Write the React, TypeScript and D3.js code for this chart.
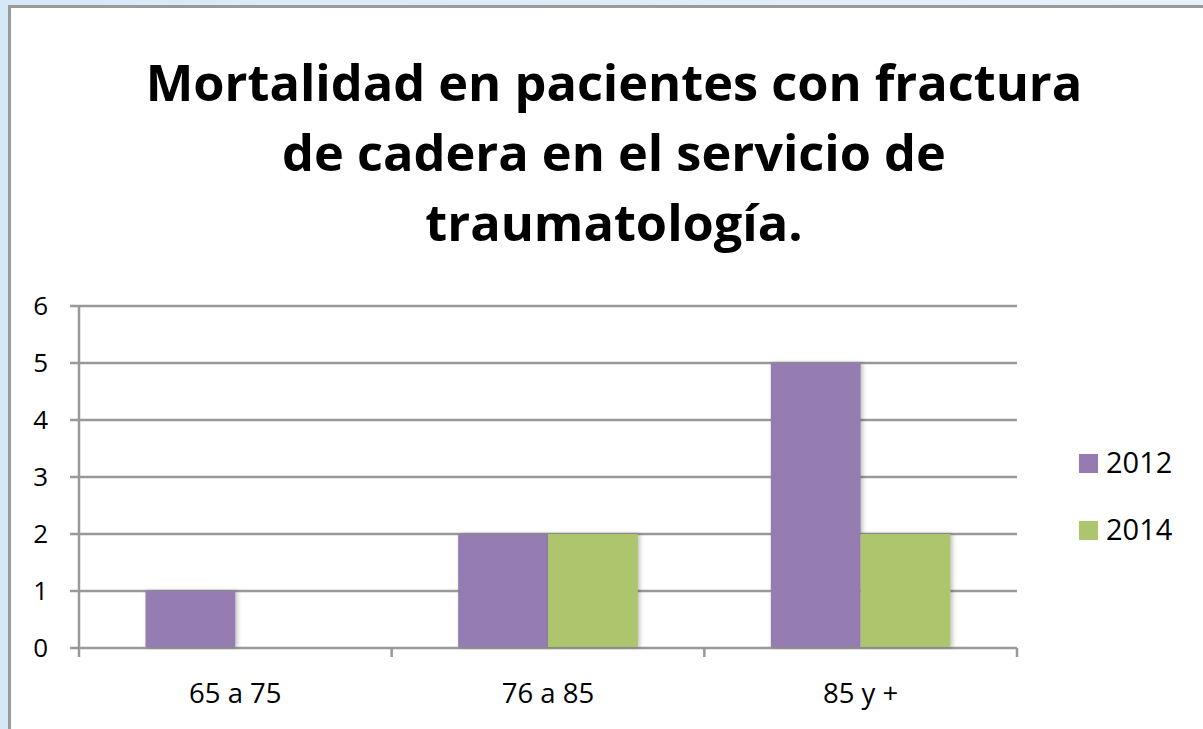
import React, { useRef, useEffect } from 'react';
import * as d3 from 'd3';

const categories = ['65 a 75', '76 a 85', '85 y +'];
const seriesNames = ['2012', '2014'];
const values2012 = [1, 2, 5];
const values2014 = [0, 2, 2];
const yTicks = [0, 1, 2, 3, 4, 5, 6];
const titleLines = [
  'Mortalidad en pacientes con fractura',
  'de cadera en el servicio de',
  'traumatología.',
];

const colors = ['#957bb1', '#adc56d'];
const FONT = "'Open Sans', 'Liberation Sans', sans-serif";

const App = () => {
  const ref = useRef<SVGSVGElement>(null);

  useEffect(() => {
    const svg = d3.select(ref.current);
    svg.selectAll('*').remove();
    const W = 1203;
    const H = 729;

    const defs = svg.append('defs');
    const grad = defs.append('linearGradient').attr('id', 'bg').attr('x1', 0).attr('x2', 1).attr('y1', 0).attr('y2', 0);
    grad.append('stop').attr('offset', '0%').attr('stop-color', '#d6e8f8');
    grad.append('stop').attr('offset', '100%').attr('stop-color', '#e6f1fb');
    const shadow = defs.append('filter').attr('id', 'shadow').attr('x', '-20%').attr('y', '-20%').attr('width', '140%').attr('height', '140%');
    shadow.append('feDropShadow').attr('dx', 2).attr('dy', 0).attr('stdDeviation', 2).attr('flood-color', '#000').attr('flood-opacity', 0.25);

    svg.append('rect').attr('width', W).attr('height', H).attr('fill', 'url(#bg)');
    svg.append('rect')
      .attr('x', 9.5).attr('y', 6.5).attr('width', W).attr('height', H)
      .attr('fill', '#fff').attr('stroke', '#9a9a9a').attr('stroke-width', 3);

    // title
    svg.append('g')
      .selectAll('text')
      .data(titleLines)
      .join('text')
      .attr('x', 614)
      .attr('y', (d, i) => 101 + i * 70)
      .attr('text-anchor', 'middle')
      .attr('font-family', FONT)
      .attr('font-weight', 'bold')
      .attr('font-size', 50.5)
      .attr('fill', '#000')
      .text((d) => d);

    const left = 79;
    const right = 1017;
    const top = 306;
    const bottom = 648;

    const x = d3.scaleBand().domain(categories).range([left, right]).paddingInner(0).paddingOuter(0);
    const x1 = d3.scaleBand().domain(seriesNames).range([0, x.bandwidth()]).paddingInner(0).paddingOuter(0.74);
    const y = d3.scaleLinear().domain([0, 6]).range([bottom, top]);

    const g = svg.append('g');

    // gridlines
    g.selectAll('line.grid')
      .data(yTicks)
      .join('line')
      .attr('class', 'grid')
      .attr('x1', left - 9)
      .attr('x2', right)
      .attr('y1', (d) => y(d))
      .attr('y2', (d) => y(d))
      .attr('stroke', '#999')
      .attr('stroke-width', 2.5);

    // y axis line
    g.append('line')
      .attr('x1', left).attr('x2', left)
      .attr('y1', top).attr('y2', bottom + 9)
      .attr('stroke', '#999').attr('stroke-width', 2.5);

    // x ticks
    const xTickPos = categories.map((c) => x(c) as number).concat([right]);
    g.selectAll('line.xt')
      .data(xTickPos.slice(1))
      .join('line')
      .attr('class', 'xt')
      .attr('x1', (d) => d).attr('x2', (d) => d)
      .attr('y1', bottom).attr('y2', bottom + 9)
      .attr('stroke', '#999').attr('stroke-width', 2.5);

    // y tick labels
    g.selectAll('text.yl')
      .data(yTicks)
      .join('text')
      .attr('class', 'yl')
      .attr('x', 48)
      .attr('y', (d) => y(d) + 9)
      .attr('text-anchor', 'end')
      .attr('font-family', FONT)
      .attr('font-size', 26)
      .attr('fill', '#000')
      .text((d) => d);

    // x labels
    g.selectAll('text.xl')
      .data(categories)
      .join('text')
      .attr('class', 'xl')
      .attr('x', (d) => (x(d) as number) + x.bandwidth() / 2)
      .attr('y', 703)
      .attr('text-anchor', 'middle')
      .attr('font-family', FONT)
      .attr('font-size', 27.5)
      .attr('fill', '#000')
      .text((d) => d);

    // bars
    const series = [values2012, values2014];
    series.forEach((vals, si) => {
      g.selectAll(`rect.s${si}`)
        .data(vals.map((v, i) => ({ v, c: categories[i] })).filter((d) => d.v > 0))
        .join('rect')
        .attr('class', `s${si}`)
        .attr('x', (d) => (x(d.c) as number) + (x1(seriesNames[si]) as number))
        .attr('width', x1.bandwidth())
        .attr('y', (d) => y(d.v))
        .attr('height', (d) => y(0) - y(d.v) - 1)
        .attr('fill', colors[si])
        .attr('filter', 'url(#shadow)');
    });

    // legend
    const legend = svg.append('g');
    seriesNames.forEach((name, i) => {
      const ly = 454 + i * 67;
      legend.append('rect')
        .attr('x', 1079).attr('y', ly).attr('width', 19).attr('height', 19)
        .attr('fill', colors[i]);
      legend.append('text')
        .attr('x', 1106).attr('y', ly + 19)
        .attr('font-family', FONT)
        .attr('font-size', 29)
        .attr('fill', '#000')
        .text(name);
    });
  }, []);

  return (
    <svg
      ref={ref}
      width={1203}
      height={729}
      style={{ position: 'absolute', left: 0, top: 0, display: 'block' }}
    />
  );
};

export default App;
